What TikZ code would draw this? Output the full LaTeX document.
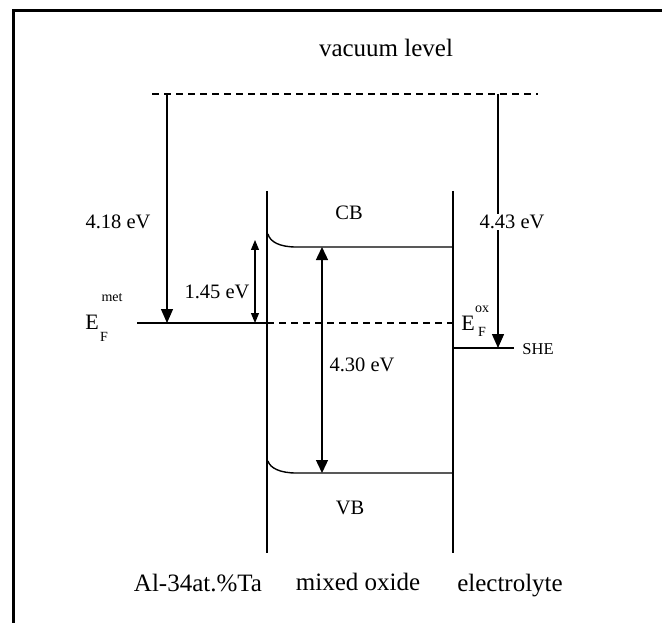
\documentclass[tikz,border=0pt]{standalone}
\usepackage{fontspec}
\setmainfont{Liberation Serif}
\usetikzlibrary{arrows.meta}
\tikzset{
  lvl/.style={line width=1.8pt},
  thinl/.style={line width=1.4pt},
  bigarrow/.style={line width=1.4pt,-{Triangle[width=12pt,length=14pt]}},
  dblarrow/.style={line width=1.1pt,{Triangle[width=8pt,length=10pt]}-{Triangle[width=8pt,length=10pt]}},
  dblarrowB/.style={line width=1.4pt,{Triangle[width=12pt,length=13pt]}-{Triangle[width=12pt,length=13pt]}},
  biglabel/.style={font=\fontsize{25}{28}\selectfont, inner sep=0pt},
  lab/.style={font=\fontsize{20.5}{23}\selectfont, inner sep=0pt},
  smalllab/.style={font=\fontsize{16.5}{18}\selectfont, inner sep=0pt},
  scriptlab/.style={font=\fontsize{14}{16}\selectfont, inner sep=0pt},
}
\begin{document}
\begin{tikzpicture}[x=1pt,y=-1pt]
\useasboundingbox (0,0) rectangle (662,623);
% frame
\draw[line width=3pt] (13,640) -- (13,11) -- (680,11);
% coordinates
\coordinate (vacL) at (152,94);
\coordinate (vacR) at (538,94);
\coordinate (mTop) at (167,94);
\coordinate (mFermi) at (167,323);
\coordinate (fermiL) at (137,323);
\coordinate (fermiI) at (267,323);
\coordinate (fermiR) at (453,323);
\coordinate (ifLt) at (267,191);
\coordinate (ifLb) at (267,553);
\coordinate (ifRt) at (453,191);
\coordinate (ifRb) at (453,553);
\coordinate (cbS) at (268,234);
\coordinate (cbE) at (296,247);
\coordinate (cbR) at (453,247);
\coordinate (vbS) at (268,461);
\coordinate (vbE) at (296,473);
\coordinate (vbR) at (453,473);
\coordinate (aTop) at (255,240);
\coordinate (aBot) at (255,323);
\coordinate (gTop) at (322,247);
\coordinate (gBot) at (322,473);
\coordinate (sTop) at (498,94);
\coordinate (sBot) at (498,348);
\coordinate (sheL) at (453,348);
\coordinate (sheR) at (514,348);
% vacuum level
\draw[thinl, dash pattern=on 7pt off 5pt] (vacL) -- (vacR);
% Fermi level
\draw[lvl] (fermiL) -- (fermiI);
\draw[thinl, dash pattern=on 7pt off 5pt] (fermiI) -- (fermiR);
% interfaces
\draw[thinl] (ifLt) -- (ifLb);
\draw[thinl] (ifRt) -- (ifRb);
% bands
\draw[thinl] (cbS) .. controls (270,242) and (280,247) .. (cbE) -- (cbR);
\draw[thinl] (vbS) .. controls (270,468) and (280,473) .. (vbE) -- (vbR);
% SHE
\draw[thinl] (sheL) -- (sheR);
% arrows
\draw[bigarrow] (mTop) -- (mFermi);
\draw[dblarrow] (aTop) -- (aBot);
\draw[dblarrowB] (gTop) -- (gBot);
\draw[bigarrow] (sTop) -- (sBot);
% labels
\node[biglabel] (vac) at (386,48) {vacuum level};
\node[lab, fill=white] (l418) at (118,222) {4.18 eV};
\node[lab, fill=white, inner sep=1pt] (l443) at (512,222) {4.43 eV};
\node[lab] (l145) at (217,292) {1.45 eV};
\node[lab] (l430) at (362,365) {4.30 eV};
\node[lab] (cb) at (349,213) {CB};
\node[lab] (vb) at (350,508) {VB};
\node[smalllab] (she) at (538,349) {SHE};
\node[lab, font=\fontsize{22}{24}\selectfont] (Em) at (92,322) {E};
\node[scriptlab] (Emsup) at (112,298) {met};
\node[scriptlab] (Emsub) at (104,337) {F};
\node[lab, font=\fontsize{22}{24}\selectfont] (Eo) at (468,323) {E};
\node[scriptlab] (Eosup) at (482,309) {ox};
\node[scriptlab] (Eosub) at (482,332) {F};
\node[biglabel, anchor=base] (metal) at (198,591) {Al-34at.\%Ta};
\node[biglabel, anchor=base] (oxide) at (358,590) {mixed oxide};
\node[biglabel, anchor=base] (elec) at (510,591) {electrolyte};
\end{tikzpicture}
\end{document}
